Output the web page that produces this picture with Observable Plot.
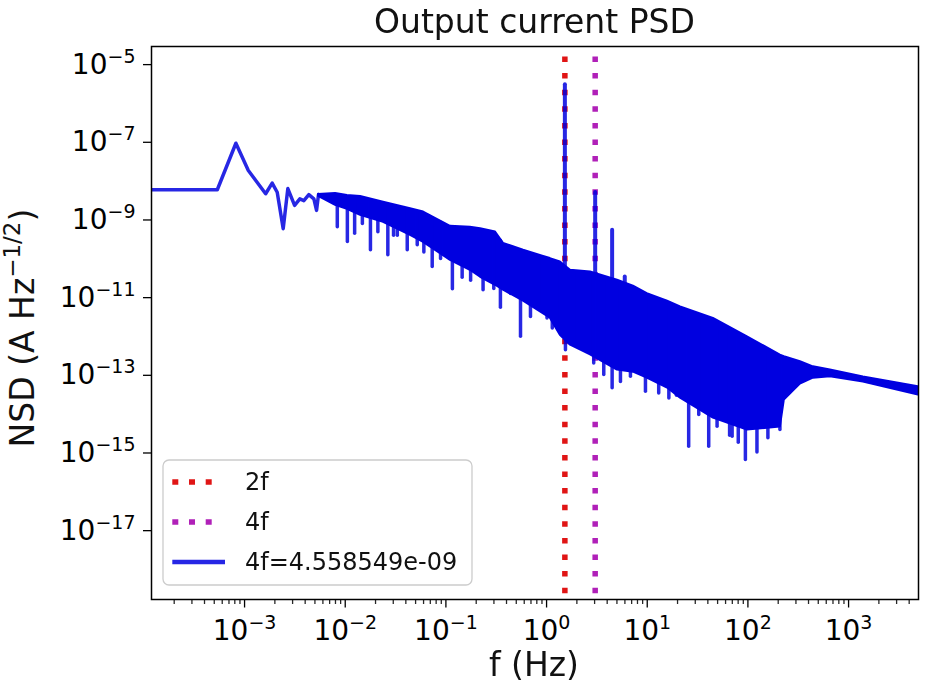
<!DOCTYPE html>
<html><head><meta charset="utf-8">
<script src="https://cdn.jsdelivr.net/npm/d3@7"></script>
<script src="https://cdn.jsdelivr.net/npm/@observablehq/plot@0.6"></script>
<style>html,body{margin:0;padding:0;background:#fff;overflow:hidden} svg{display:block}</style>
</head><body><div id="chart"></div>
<script>
// ---- data ----
// sparse low-frequency part of the PSD curve
const lowF = [1.19e-4, 5.36e-4, 8.2e-4, 1.09e-3, 1.62e-3, 1.88e-3, 2.11e-3, 2.42e-3, 2.69e-3, 3.14e-3, 3.54e-3, 3.88e-3, 4.35e-3, 4.88e-3, 5.19e-3, 5.43e-3];
const lowV = [5.33e-9, 5.33e-9, 8.4e-8, 1.67e-8, 4.2e-9, 7.9e-9, 4.6e-9, 5.3e-10, 5.7e-9, 2.1e-9, 3.1e-9, 2.8e-9, 4.0e-9, 3.1e-9, 1.57e-9, 4.05e-9];
// dense part: upper and lower envelope of the solid band
const bandF = [5.43e-3, 8.02e-3, 1.05e-2, 1.42e-2, 2.40e-2, 4.45e-2, 6.0e-2, 0.111, 0.175, 0.221, 0.311, 0.373, 0.590, 1.09, 1.37, 1.73, 2.73, 5.06, 7.29, 10.0, 15.9, 21.4, 45.4, 98.9, 210, 230, 332, 447, 659, 1403, 4930];
const bandUpper = [4.05e-9, 4.29e-9, 3.81e-9, 3.59e-9, 2.56e-9, 1.73e-9, 1.42e-9, 6.08e-10, 5.73e-10, 5.31e-10, 4.34e-10, 2.22e-10, 1.47e-10, 9.0e-11, 7.35e-11, 4.5e-11, 4.06e-11, 2.49e-11, 1.75e-11, 1.13e-11, 7.2e-12, 5.1e-12, 2.58e-12, 8.7e-13, 2.94e-13, 2.69e-13, 1.98e-13, 1.47e-13, 1.21e-13, 8.1e-14, 4.5e-14];
const bandLower = [3.59e-9, 2.11e-9, 1.66e-9, 1.17e-9, 7.7e-10, 3.57e-10, 2.36e-10, 8.1e-11, 4.5e-11, 2.97e-11, 1.85e-11, 1.38e-11, 7.2e-12, 2.62e-12, 9.6e-13, 5.3e-13, 3.0e-13, 1.21e-13, 1.07e-13, 7.5e-14, 4.17e-14, 2.3e-14, 7.0e-15, 3.47e-15, 4.14e-15, 2.05e-14, 5.3e-14, 7.5e-14, 8.1e-14, 6.0e-14, 2.75e-14];
// downward spikes (frequency, tip value)
const spikeF = [8.34e-3, 1.05e-2, 1.24e-2, 1.48e-2, 1.78e-2, 2.11e-2, 2.65e-2, 3.02e-2, 3.29e-2, 4.13e-2, 5.19e-2, 6.04e-2, 7.31e-2, 8.85e-2, 0.116, 0.145, 0.176, 0.234, 0.299, 0.348, 0.438, 0.551, 0.692, 0.837, 1.01, 1.14, 1.38, 1.54, 2.01, 2.94, 3.70, 4.48, 5.42, 6.81, 9.6, 13.0, 16.4, 19.5, 25.8, 32.5, 40.8, 49.4, 65.8, 69.7, 80.2, 94.4, 123, 158, 208];
const spikeV = [5.8e-10, 2.4e-10, 3.9e-10, 7.0e-10, 1.47e-10, 4.3e-10, 1.09e-10, 3.5e-10, 3.5e-10, 1.47e-10, 1.98e-10, 1.3e-10, 5.5e-11, 8.8e-11, 1.46e-11, 2.88e-11, 2.43e-11, 1.38e-11, 1.49e-11, 4.9e-12, 1.1e-11, 8.7e-13, 2.83e-12, 5.7e-12, 2.58e-12, 1.43e-12, 1.69e-12, 3.95e-13, 6.5e-13, 1.8e-13, 9.0e-14, 4.1e-14, 6.0e-14, 8.1e-14, 3.34e-14, 3.04e-14, 2.26e-14, 2.65e-14, 1.29e-15, 8.4e-15, 1.29e-15, 4.2e-15, 2.48e-15, 2.33e-15, 1.64e-15, 5.9e-16, 9.1e-16, 2.12e-15, 3.47e-15];
// upward peaks (harmonics)
const peakF = [1.52, 3.04, 4.48, 5.98];
const peakV = [2.7e-6, 4.558549e-9, 4.8e-10, 3.0e-11];
// vertical marker lines
const markerF = [1.52, 3.04];
const markerLabels = ["2f", "4f"];
const markerColors = ["#e01515", "#b020b8"];
const seriesLabel = "4f=4.558549e-09";
// ticks
const xMajor = [1e-3, 1e-2, 1e-1, 1e0, 1e1, 1e2, 1e3];
const minorMult = [2, 3, 4, 5, 6, 7, 8, 9];
const minorDecades = [1e-4, 1e-3, 1e-2, 1e-1, 1e0, 1e1, 1e2, 1e3];
const yMajor = [1e-17, 1e-15, 1e-13, 1e-11, 1e-9, 1e-7, 1e-5];
const titleText = "Output current PSD";
const xLabel = "f (Hz)";

// ---- build ----
const blue = "#0000e0";
const xMinor = minorDecades.flatMap(d => minorMult.map(m => m * d)).filter(v => v <= 4950 && v >= 1.19e-4);
const interpLog = (xs, ys) => {
  const s = d3.scaleLinear().domain(xs.map(Math.log10)).range(ys.map(Math.log10)).clamp(true);
  return f => Math.pow(10, s(Math.log10(f)));
};
const upperAt = interpLog(bandF, bandUpper);
const lowPts = lowF.map((f, i) => ({f, v: lowV[i]}));
const band = bandF.map((f, i) => ({f, hi: bandUpper[i], lo: bandLower[i]}));
const spikes = spikeF.map((f, i) => ({f, tip: spikeV[i], base: upperAt(f) * 0.9}));
const peaks = peakF.map((f, i) => ({f, top: peakV[i], base: upperAt(f) * 0.7}));
const markers = markerF.map((f, i) => ({f, label: markerLabels[i], color: markerColors[i]}));
const fmtExp = d => `10^${Math.round(Math.log10(d))}`;

const svg = Plot.plot({
  width: 932, height: 684,
  marginLeft: 151, marginRight: 14, marginTop: 46, marginBottom: 85,
  style: {fontFamily: "DejaVu Sans", background: "white", color: "black"},
  x: {type: "log", domain: [1.19e-4, 4950]},
  y: {type: "log", domain: [1.5e-19, 2.6e-5]},
  color: {type: "identity"},
  marks: [
    Plot.ruleX(markers, {x: "f", stroke: "color", strokeWidth: 5.5, strokeDasharray: "5.5,11.1", strokeDashoffset: 6.1}),
    Plot.areaY(band, {x: "f", y1: "lo", y2: "hi", fill: blue, stroke: blue, strokeWidth: 2, strokeLinejoin: "round", clip: true}),
    Plot.ruleX(spikes, {x: "f", y1: "tip", y2: "base", stroke: blue, strokeWidth: 3.5, strokeLinecap: "round"}),
    Plot.ruleX(peaks, {x: "f", y1: "base", y2: "top", stroke: blue, strokeWidth: 4, strokeLinecap: "round"}),
    Plot.line(lowPts, {x: "f", y: "v", stroke: blue, strokeWidth: 3.5, strokeLinejoin: "round", clip: true}),
    Plot.frame({stroke: "black", strokeWidth: 1.5}),
    Plot.axisX(xMinor, {tickSize: 5, tickFormat: () => "", label: null, strokeWidth: 1.3}),
    Plot.axisX(xMajor, {tickSize: 8.5, tickPadding: 12.6, fontSize: 28, tickFormat: fmtExp, label: null, strokeWidth: 1.3}),
    Plot.axisY(yMajor, {tickSize: 8, tickPadding: 8, fontSize: 28, dy: 2, tickFormat: fmtExp, label: null, strokeWidth: 1.3})
  ]
});

const ns = "http://www.w3.org/2000/svg";
// group the PSD marks so overlapping parts share one opacity
const gs = Array.from(svg.children).filter(n => n.tagName.toLowerCase() === "g");
const grp = document.createElementNS(ns, "g");
grp.setAttribute("opacity", "0.85");
svg.insertBefore(grp, gs[2]);
[2, 3, 4, 5].forEach(i => grp.appendChild(gs[i]));

// superscript tick labels
svg.querySelectorAll("text").forEach(t => {
  const m = /^10\^(-?\d+)$/.exec(t.textContent);
  if (!m) return;
  t.textContent = "10";
  const sp = document.createElementNS(ns, "tspan");
  sp.setAttribute("dy", "-11");
  sp.setAttribute("font-size", "19");
  sp.textContent = m[1].replace("-", "\u2212");
  t.appendChild(sp);
});

const sel = d3.select(svg);
// title and axis labels
sel.append("text").attr("x", 534.5).attr("y", 33).attr("text-anchor", "middle")
  .attr("font-size", 33).attr("fill", "#111").text(titleText);
sel.append("text").attr("x", 534).attr("y", 676).attr("text-anchor", "middle")
  .attr("font-size", 33).attr("fill", "#111").text(xLabel);
const yl = sel.append("text").attr("transform", "translate(34,328) rotate(-90)")
  .attr("text-anchor", "middle").attr("font-size", 33).attr("fill", "#111");
yl.append("tspan").text("NSD (A Hz");
yl.append("tspan").attr("dy", -14).attr("font-size", 23).text("\u22121/2");
yl.append("tspan").attr("dy", 14).text(")");

// legend
const lg = sel.append("g").attr("text-anchor", "start");
lg.append("rect").attr("x", 163).attr("y", 460).attr("width", 309).attr("height", 125).attr("rx", 6)
  .attr("fill", "white").attr("fill-opacity", 0.8).attr("stroke", "#cccccc").attr("stroke-width", 1.3);
const rows = [
  {label: markerLabels[0], color: markerColors[0], dotted: true},
  {label: markerLabels[1], color: markerColors[1], dotted: true},
  {label: seriesLabel, color: blue, dotted: false}
];
rows.forEach((r, i) => {
  const cy = 482 + i * 40;
  const ln = lg.append("line").attr("x1", 172.3).attr("x2", r.dotted ? 212 : 225).attr("y1", cy).attr("y2", cy)
    .attr("stroke", r.color);
  if (r.dotted) ln.attr("stroke-width", 5.5).attr("stroke-dasharray", "6,10.7");
  else ln.attr("stroke-width", 4.5).attr("stroke-opacity", 0.85);
  lg.append("text").attr("x", 245).attr("y", cy + 8.3).attr("text-anchor", "start")
    .attr("font-size", 24).attr("fill", "#111").text(r.label);
});

document.getElementById("chart").appendChild(svg);
</script>
</body></html>
